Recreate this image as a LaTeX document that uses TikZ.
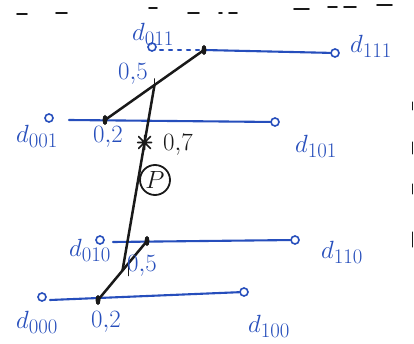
\documentclass[tikz,border=0pt]{standalone}
\usetikzlibrary{calc,shapes.geometric}
\definecolor{pen}{RGB}{38,78,188}
\definecolor{ink}{RGB}{25,25,25}
\begin{document}
\begin{tikzpicture}[x=1pt,y=-1pt,
  bl/.style={draw=pen,line width=2.1pt,line cap=round},
  bk/.style={draw=ink,line width=2.5pt,line cap=round},
  vtx/.style={circle,draw=pen,line width=1.6pt,inner sep=0pt,minimum size=8pt,fill=white},
  dot/.style={ellipse,fill=ink,inner sep=0pt,minimum width=5pt,minimum height=10pt},
  lab/.style={text=pen,font=\fontsize{30}{32}\selectfont,inner sep=0pt},
  num/.style={text=pen,font=\fontsize{27}{29}\selectfont,inner sep=0pt},
  numk/.style={text=ink,font=\fontsize{27}{29}\selectfont,inner sep=0pt},
  scrap/.style={draw=ink,line width=1.6pt,line cap=round}]
\useasboundingbox (0,0) rectangle (414,344);
\fill[white] (0,0) rectangle (414,344);
% scraps at top and right edge
\foreach \a/\b/\y in {17/27/14,56/67/13,149/157/8,188/199/13,219/222/13,229/237/13,294/309/9,328/337/7,344/356/7,377/392/5}
  \draw[scrap] (\a,\y) -- (\b,\y);
\foreach \a/\b in {102/110,142/154,184/194,232/247}
  \draw[scrap,line width=1pt] (412,\a) -- (412,\b);
% vertices
\node[vtx] (o011) at (152,47) {};
\node[vtx] (o111) at (335,53) {};
\node[vtx] (o001) at (49,118) {};
\node[vtx] (o101) at (275,122) {};
\node[vtx] (o010) at (100,240) {};
\node[vtx] (o110) at (295,240) {};
\node[vtx] (o000) at (42,297) {};
\node[vtx] (o100) at (244,292) {};
\coordinate (s011) at (160,50);
\coordinate (s001) at (69,120);
\coordinate (s010) at (113,242);
\coordinate (s000) at (50,300);
% interpolation points on the edges
\coordinate (A) at (204,50);
\coordinate (B) at (105,120);
\coordinate (C) at (147,241);
\coordinate (D) at (98,300);
% blue edges
\draw[bl,dash pattern=on 3pt off 6pt] (s011) -- (A);
\draw[bl] (A) -- (o111);
\draw[bl] (s001) -- (o101);
\draw[bl] (s010) -- (o110);
\draw[bl] (s000) -- (o100);
% black interpolation lines
\draw[bk] (B) -- (A) coordinate[pos=0.5] (M1);
\draw[bk] (D) -- (C) coordinate[pos=0.5] (M2);
\draw[bk] (M1) -- (M2) coordinate[pos=0.31] (S);
\draw[bk,line width=1.6pt] (M1) -- +(0,-6);
\draw[bk,line width=1.6pt] (M2) ++(6,-4) -- +(0,9);
% dots
\node[dot] at (A) {};
\node[dot] at (B) {};
\node[dot] at (C) {};
\node[dot] at (D) {};
% star
\draw[bk,line width=1.6pt] (S) +(-6,-6) -- +(6,6) (S) +(-6,6) -- +(6,-6) (S) +(-7,0) -- +(7,0) (S) +(0,-7) -- +(0,7);
% point P
\node[circle,draw=ink,line width=1.8pt,minimum size=30pt,inner sep=0pt,text=ink,font=\fontsize{26}{28}\selectfont] (P) at (155,180) {$P$};
% labels
\node[lab] (l011) at (153,34) {$d_{011}$};
\node[lab] (l111) at (371,46) {$d_{111}$};
\node[lab] (l001) at (37,136) {$d_{001}$};
\node[lab] (l101) at (316,146) {$d_{101}$};
\node[lab] (l010) at (90,250) {$d_{010}$};
\node[lab] (l110) at (342,252) {$d_{110}$};
\node[lab] (l000) at (37,322) {$d_{000}$};
\node[lab] (l100) at (269,326) {$d_{100}$};
\node[num] (n1) at (133,74) {$0{,}5$};
\node[num] (n2) at (108,137) {$0{,}2$};
\node[numk] (n3) at (178,145) {$0{,}7$};
\node[num] (n4) at (142,266) {$0{,}5$};
\node[num] (n5) at (106,322) {$0{,}2$};
\end{tikzpicture}
\end{document}
